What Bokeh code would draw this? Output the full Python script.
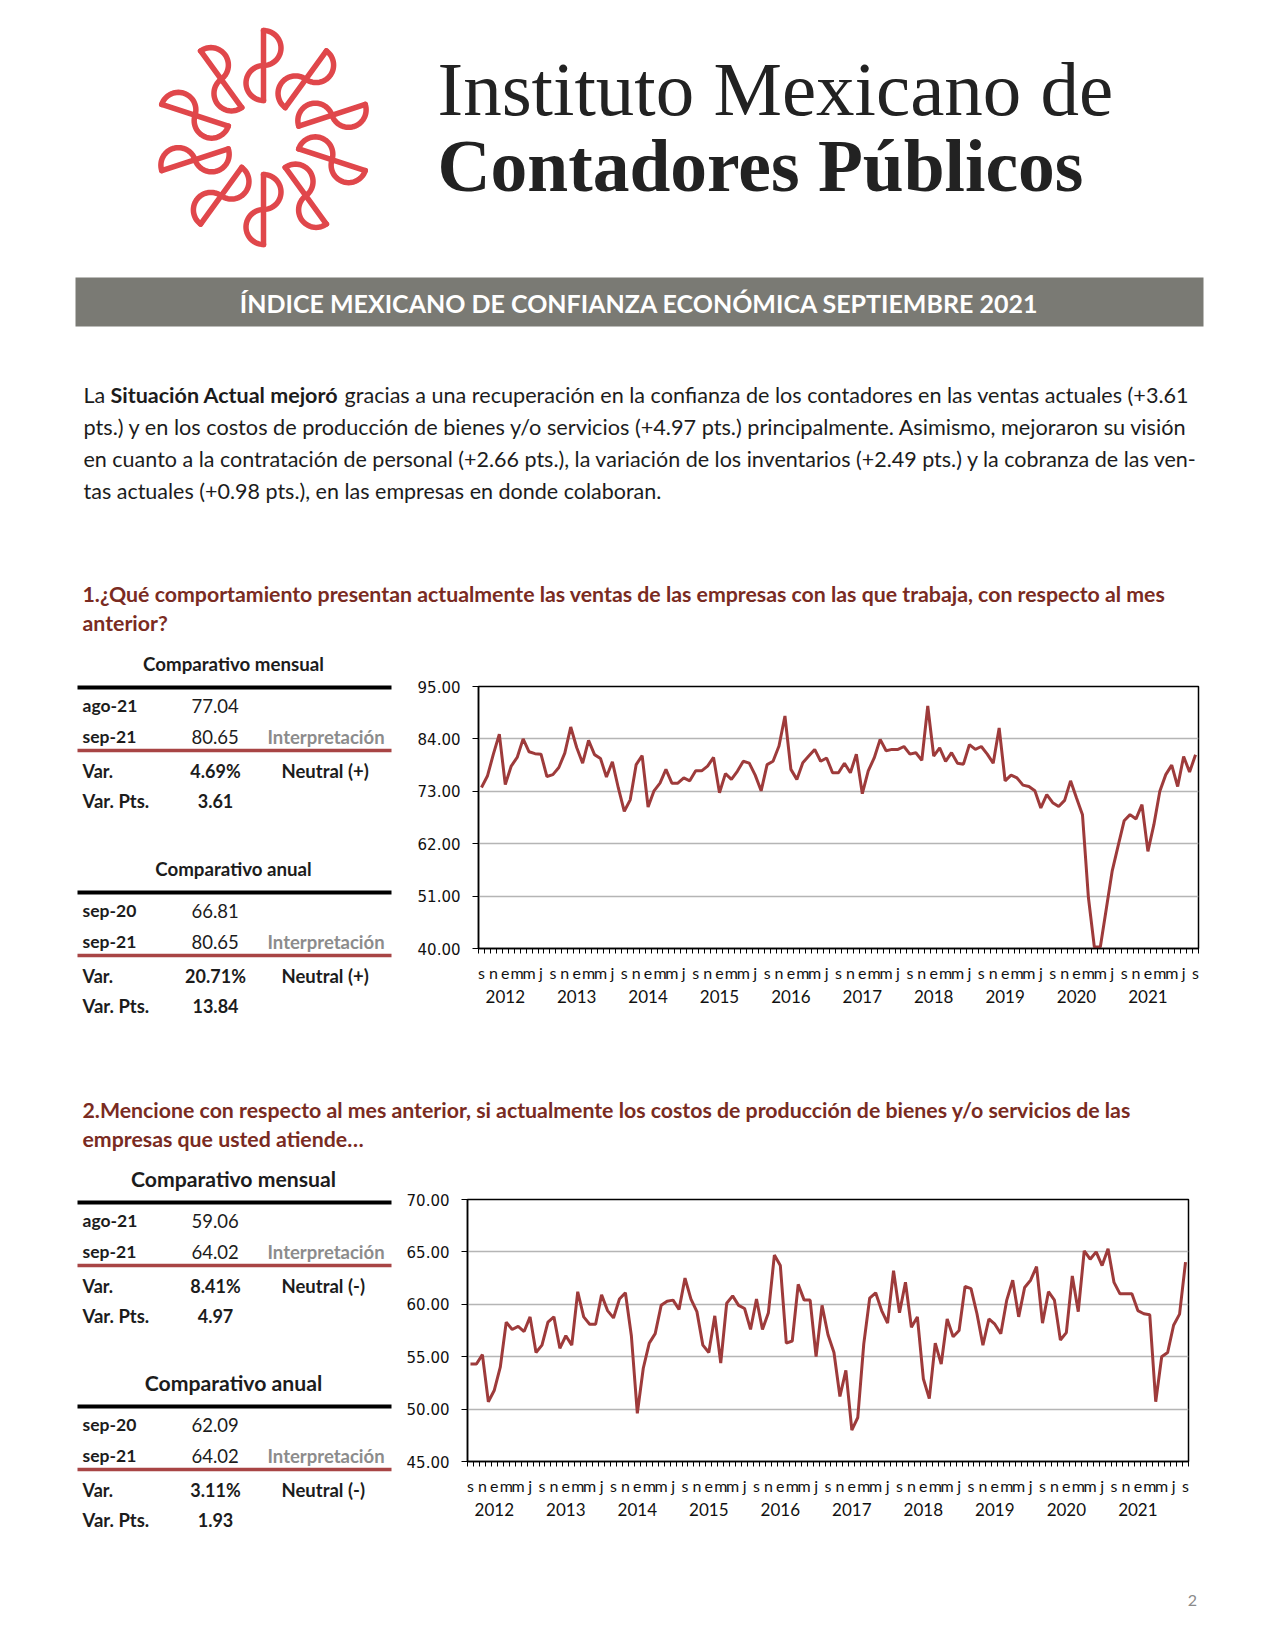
import math
from bokeh.plotting import figure
from bokeh.models import Range1d, FixedTicker, LinearAxis, NumeralTickFormatter
from bokeh.layouts import column, row
from bokeh.embed import file_html
from bokeh.resources import INLINE
from bokeh.core.properties import value

# ---------------- data ----------------
MONTH_INITIALS = ["e", "f", "m", "a", "m", "j", "j", "a", "s", "o", "n", "d"]
START_YEAR = 2011
START_MONTH = 9  # septiembre 2011

VENTAS = [73.8, 76.2, 80.8, 85.0, 74.4, 78.3, 80.1, 84.0, 81.3, 80.9,
          80.8, 76.1, 76.5, 78.0, 81.0, 86.5, 82.2, 78.9, 83.7, 80.7,
          79.9, 76.0, 79.2, 73.7, 68.8, 71.2, 78.6, 80.5, 69.7, 73.1,
          74.7, 77.6, 74.7, 74.7, 75.8, 75.2, 77.3, 77.3, 78.3, 80.1,
          72.7, 76.7, 75.5, 77.2, 79.3, 78.9, 76.4, 73.1, 78.6, 79.3,
          82.5, 88.8, 77.6, 75.5, 79.0, 80.4, 81.8, 79.3, 80.0, 76.9,
          76.9, 78.9, 76.9, 80.8, 72.5, 77.3, 80.0, 83.9, 81.5, 81.8,
          81.8, 82.4, 80.8, 81.1, 79.5, 90.9, 80.4, 82.1, 79.3, 81.1,
          78.9, 78.7, 82.8, 81.8, 82.4, 80.8, 78.9, 86.3, 75.2, 76.4,
          75.8, 74.3, 74.0, 73.1, 69.5, 72.3, 70.6, 69.8, 71.1, 75.2,
          71.6, 68.1, 50.7, 40.3, 40.3, 48.3, 56.3, 61.6, 66.81, 68.1,
          67.2, 70.2, 60.4, 66.0, 73.0, 76.5, 78.5, 74.0, 80.3, 77.04,
          80.65]

COSTOS = [54.3, 54.3, 55.2, 50.7, 51.8, 54.0, 58.3, 57.6, 57.9, 57.4,
          58.8, 55.4, 56.1, 58.3, 58.8, 55.8, 57.0, 56.1, 61.2, 58.8,
          58.1, 58.1, 60.9, 59.4, 58.7, 60.5, 61.1, 57.0, 49.6, 53.9,
          56.3, 57.2, 59.9, 60.3, 60.4, 59.5, 62.5, 60.5, 59.3, 56.1,
          55.4, 58.9, 54.4, 60.1, 60.8, 59.9, 59.6, 57.6, 60.5, 57.6,
          59.2, 64.7, 63.7, 56.3, 56.5, 61.9, 60.4, 60.4, 55.0, 59.9,
          57.1, 55.4, 51.2, 53.7, 48.0, 49.2, 56.2, 60.6, 61.1, 59.4,
          58.2, 63.2, 59.2, 62.1, 57.8, 58.8, 52.9, 51.0, 56.3, 54.3,
          58.6, 56.9, 57.5, 61.7, 61.5, 59.1, 56.1, 58.6, 58.1, 57.2,
          60.4, 62.3, 58.8, 61.6, 62.3, 63.6, 58.2, 61.2, 60.4, 56.6,
          57.3, 62.7, 59.3, 65.1, 64.3, 65.0, 63.7, 65.3, 62.09, 61.0,
          61.0, 61.0, 59.4, 59.1, 59.0, 50.7, 55.0, 55.4, 58.0, 59.06,
          64.02]

Y1_TICKS = [40, 51, 62, 73, 84, 95]
Y2_TICKS = [45, 50, 55, 60, 65, 70]

T1_MENSUAL = [("ago-21", "77.04"), ("sep-21", "80.65")]
T1_MENSUAL_VAR = ("4.69%", "3.61", "Neutral (+)")
T1_ANUAL = [("sep-20", "66.81"), ("sep-21", "80.65")]
T1_ANUAL_VAR = ("20.71%", "13.84", "Neutral (+)")
T2_MENSUAL = [("ago-21", "59.06"), ("sep-21", "64.02")]
T2_MENSUAL_VAR = ("8.41%", "4.97", "Neutral (-)")
T2_ANUAL = [("sep-20", "62.09"), ("sep-21", "64.02")]
T2_ANUAL_VAR = ("3.11%", "1.93", "Neutral (-)")

PARAGRAPH = [
    "pts.) y en los costos de producción de bienes y/o servicios (+4.97 pts.) principalmente. Asimismo, mejoraron su visión",
    "en cuanto a la contratación de personal (+2.66 pts.), la variación de los inventarios (+2.49 pts.) y la cobranza de las ven-",
    "tas actuales (+0.98 pts.), en las empresas en donde colaboran.",
]

TEXT = "#1c1c1c"
MAROON = "#7a2b22"
LINE_RED = "#9e3b3b"
SANS = "Lato"


def page_fig(x0, x1, y0, y1):
    p = figure(width=x1 - x0, height=y1 - y0,
               x_range=Range1d(x0, x1), y_range=Range1d(y1, y0),
               output_backend="svg", toolbar_location=None,
               x_axis_location=None, y_axis_location=None, min_border=0,
               frame_align=False)
    p.outline_line_color = None
    p.grid.visible = False
    return p


def txt(p, x, y, s, size, color=TEXT, bold=False, align="left",
        font=SANS, baseline="middle"):
    p.text(x=[x], y=[y], text=[s], text_font=value(font),
           text_font_size=f"{size}px", text_color=color,
           text_font_style="bold" if bold else "normal",
           text_align=align, text_baseline=baseline)


def hline(p, x0, x1, y, color, w):
    p.line(x=[x0, x1], y=[y, y], line_color=color, line_width=w)


# ---------------- top block ----------------
top = page_fig(0, 1267, 0, 645)

# logo
cx, cy = 263, 137
logo_xs, logo_ys = [], []
for k in range(10):
    th = math.radians(90 - 36 * k)
    dx, dy = math.cos(th), -math.sin(th)
    nx, ny = -dy, dx

    def P(u, v):
        return cx + u * dx + v * nx, cy + u * dy + v * ny

    a, b = P(37, 0), P(107, 0)
    logo_xs.append([a[0], b[0]])
    logo_ys.append([a[1], b[1]])
    for uc, sgn in ((89.5, 1), (54.5, -1)):
        pts = [P(uc + 17.5 * math.cos(math.pi * j / 30), sgn * 17.5 * math.sin(math.pi * j / 30)) for j in range(31)]
        logo_xs.append([q[0] for q in pts])
        logo_ys.append([q[1] for q in pts])
top.multi_line(xs=logo_xs, ys=logo_ys, line_color="#e0474b", line_width=5.5, line_cap="round")

txt(top, 437, 88, "Instituto Mexicano de", 77, color="#222222", font="Liberation Serif", baseline="alphabetic")
txt(top, 437, 166, "Contadores Públicos", 73.5, color="#222222", bold=True, font="Liberation Serif", baseline="alphabetic")

top.quad(left=[75], right=[1203], top=[277], bottom=[326], fill_color="#7a7a74", line_color=None)
txt(top, 639, 302, "ÍNDICE MEXICANO DE CONFIANZA ECONÓMICA SEPTIEMBRE 2021", 25, color="white", bold=True, align="center")

txt(top, 83, 394, "La", 21.5)
txt(top, 110, 394, "Situación Actual mejoró", 21.5, bold=True)
txt(top, 344, 394, "gracias a una recuperación en la confianza de los contadores en las ventas actuales (+3.61", 21.6)
for i, line in enumerate(PARAGRAPH):
    txt(top, 83, 426 + 32 * i, line, 21.7 if i == 0 else 21.5)

txt(top, 82, 593, "1.¿Qué comportamiento presentan actualmente las ventas de las empresas con las que trabaja, con respecto al mes", 21.3, color=MAROON, bold=True)
txt(top, 82, 622, "anterior?", 21.3, color=MAROON, bold=True)


# ---------------- tables ----------------
def table(p, y0, head_size, mensual, mensual_var, anual, anual_var, y_anual):
    for (yb, title, rows, var) in ((y0, "Comparativo mensual", mensual, mensual_var),
                                   (y_anual, "Comparativo anual", anual, anual_var)):
        txt(p, 233, yb, title, head_size, bold=True, align="center")
        hline(p, 77, 391, yb + 24, "black", 4)
        y = yb + 42
        for j, (lab, val) in enumerate(rows):
            txt(p, 82, y + 31 * j, lab, 17.5, bold=True)
            txt(p, 191, y + 31 * j, val, 18.5)
        txt(p, 267, y + 31, "Interpretación", 18.5, color="#8c8c8c", bold=True)
        hline(p, 77, 391, y + 45, "#a84545", 3.5)
        txt(p, 82, y + 65, "Var.", 18, bold=True)
        txt(p, 215, y + 65, var[0], 18, bold=True, align="center")
        txt(p, 281, y + 65, var[2], 18.5, bold=True)
        txt(p, 82, y + 95, "Var. Pts.", 18.5, bold=True)
        txt(p, 215, y + 95, var[1], 18, bold=True, align="center")


t1 = page_fig(0, 400, 645, 1030)
table(t1, 663, 18.7, T1_MENSUAL, T1_MENSUAL_VAR, T1_ANUAL, T1_ANUAL_VAR, 868)

t2 = page_fig(0, 400, 1160, 1545)
table(t2, 1178, 21.2, T2_MENSUAL, T2_MENSUAL_VAR, T2_ANUAL, T2_ANUAL_VAR, 1382)


# ---------------- charts ----------------
def chart(vals, yticks, bl, br, bt, bb):
    n = len(vals)
    xs = list(range(n))
    p = figure(width=867, height=385, x_range=Range1d(-0.5, n - 0.5),
               y_range=Range1d(yticks[0], yticks[-1]),
               output_backend="svg", toolbar_location=None,
               x_axis_location=None, frame_align=False,
               min_border_left=bl, min_border_right=br,
               min_border_top=bt, min_border_bottom=bb)
    p.outline_line_color = "black"
    p.outline_line_width = 1.5
    p.xgrid.visible = False
    ya = p.yaxis[0]
    ya.ticker = FixedTicker(ticks=yticks)
    ya.formatter = NumeralTickFormatter(format="0.00")
    ya.major_label_text_font = "DejaVu Sans"
    ya.major_label_text_font_size = "15px"
    ya.major_label_text_color = "#111111"
    ya.major_tick_out = 6
    ya.major_tick_in = 0
    ya.minor_tick_out = 0
    ya.minor_tick_in = 0
    ya.axis_line_color = "black"
    ya.axis_line_width = 1.5
    ya.major_label_standoff = 12
    p.ygrid.grid_line_color = "#b5b5b5"
    p.ygrid.grid_line_width = 1.5

    label_idx, overrides, jan_idx, year_over = [], {}, [], {}
    for i in range(n):
        m = (START_MONTH - 1 + i) % 12
        yr = START_YEAR + (START_MONTH - 1 + i) // 12
        if i % 2 == 0:
            label_idx.append(i)
            overrides[i] = MONTH_INITIALS[m]
        if m == 0:
            jan_idx.append(i)
            year_over[i] = str(yr)
    bounds = [i - 0.5 for i in range(n + 1)]

    ax1 = LinearAxis(ticker=FixedTicker(ticks=label_idx, minor_ticks=bounds),
                     major_label_overrides=overrides,
                     major_tick_out=0, major_tick_in=0,
                     minor_tick_out=5, minor_tick_in=0,
                     axis_line_color="black", axis_line_width=1.5,
                     major_tick_line_color=None,
                     minor_tick_line_color="black", minor_tick_line_width=1,
                     major_label_standoff=9,
                     major_label_text_font=SANS,
                     major_label_text_font_size="16px",
                     major_label_text_color="#111111")
    p.add_layout(ax1, "below")
    ax2 = LinearAxis(ticker=FixedTicker(ticks=jan_idx, minor_ticks=[]),
                     major_label_overrides=year_over,
                     major_tick_out=0, major_tick_in=0,
                     minor_tick_out=0, minor_tick_in=0,
                     axis_line_color=None, major_tick_line_color=None,
                     minor_tick_line_color=None,
                     major_label_standoff=5,
                     major_label_text_font=SANS,
                     major_label_text_font_size="17px",
                     major_label_text_color="#111111")
    p.add_layout(ax2, "below")

    p.line(x=xs, y=vals, line_color=LINE_RED, line_width=3)
    return p


c1 = chart(VENTAS, Y1_TICKS, 78, 69, 41, 82)
c2 = chart(COSTOS, Y2_TICKS, 67, 79, 39, 84)

mid = page_fig(0, 1267, 1030, 1160)
txt(mid, 82, 1109, "2.Mencione con respecto al mes anterior, si actualmente los costos de producción de bienes y/o servicios de las", 21.3, color=MAROON, bold=True)
txt(mid, 82, 1138, "empresas que usted atiende…", 21.3, color=MAROON, bold=True)

bot = page_fig(0, 1267, 1545, 1640)
txt(bot, 1192, 1600, "2", 16, color="#8a8a8a", align="center")

layout = column(top, row(t1, c1), mid, row(t2, c2), bot)

open("out.html", "w").write(file_html(layout, INLINE))
